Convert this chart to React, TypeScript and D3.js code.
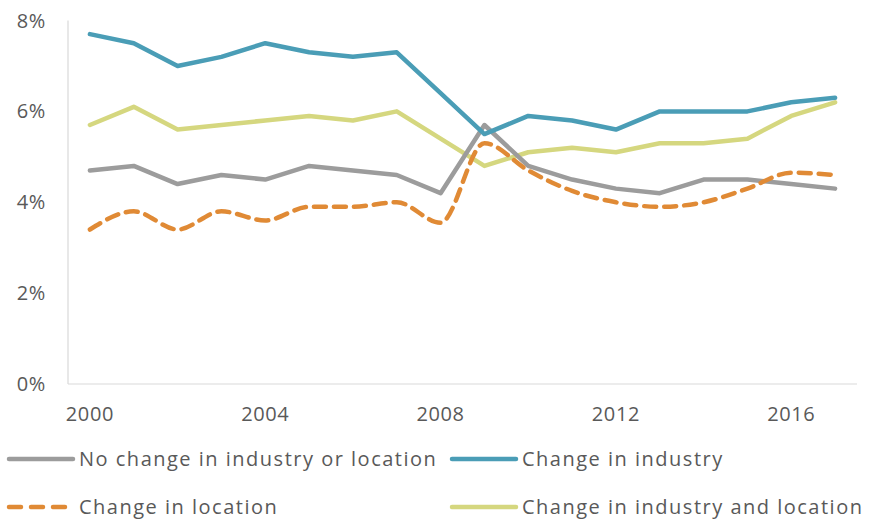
import React from "react";
import * as d3 from "d3";

const years = [2000, 2001, 2002, 2003, 2004, 2005, 2006, 2007, 2008, 2009, 2010, 2011, 2012, 2013, 2014, 2015, 2016, 2017];
const noChange = [4.7, 4.8, 4.4, 4.6, 4.5, 4.8, 4.7, 4.6, 4.2, 5.7, 4.8, 4.5, 4.3, 4.2, 4.5, 4.5, 4.4, 4.3];
const changeIndustry = [7.7, 7.5, 7.0, 7.2, 7.5, 7.3, 7.2, 7.3, 6.4, 5.5, 5.9, 5.8, 5.6, 6.0, 6.0, 6.0, 6.2, 6.3];
const changeLocation = [3.4, 3.8, 3.4, 3.8, 3.6, 3.9, 3.9, 4.0, 3.55, 5.3, 4.7, 4.25, 4.0, 3.9, 4.0, 4.3, 4.65, 4.6];
const changeBoth = [5.7, 6.1, 5.6, 5.7, 5.8, 5.9, 5.8, 6.0, 5.4, 4.8, 5.1, 5.2, 5.1, 5.3, 5.3, 5.4, 5.9, 6.2];
const yTicks = [0, 2, 4, 6, 8];
const xTickYears = [2000, 2004, 2008, 2012, 2016];
const seriesNames = ["No change in industry or location", "Change in industry", "Change in location", "Change in industry and location"];

const W = 869, H = 523;
const left = 68, right = 857, top = 20.5, bottom = 384;
const font = "'Open Sans', Lato, sans-serif";
const textColor = "#595959";

export default function App() {
  const x = d3.scaleBand<number>().domain(years).range([left, right]);
  const cx = (yr: number) => (x(yr) as number) + x.bandwidth() / 2;
  const y = d3.scaleLinear().domain([0, 8]).range([bottom, top]);

  const series = [
    { name: seriesNames[0], values: noChange, color: "#9c9c9c", dash: undefined as string | undefined, curve: d3.curveLinear },
    { name: seriesNames[1], values: changeIndustry, color: "#4a9db6", dash: undefined, curve: d3.curveLinear },
    { name: seriesNames[2], values: changeLocation, color: "#e08a35", dash: "12 8", curve: d3.curveMonotoneX },
    { name: seriesNames[3], values: changeBoth, color: "#d5d77f", dash: undefined, curve: d3.curveLinear },
  ];
  const drawOrder = [3, 0, 2, 1];

  const legendPos = [
    { x: 7, y: 459 },
    { x: 450, y: 459 },
    { x: 7, y: 507 },
    { x: 450, y: 507 },
  ];

  return (
    <svg width={W} height={H} style={{ position: "absolute", left: 0, top: 0, background: "#fff" }}>
      <line x1={left} x2={left} y1={top} y2={bottom} stroke="#d9d9d9" strokeWidth={1.2} />
      <line x1={left} x2={right} y1={bottom} y2={bottom} stroke="#d9d9d9" strokeWidth={1.2} />
      {yTicks.map((t) => (
        <text key={t} x={46} y={y(t)} dy="0.35em" textAnchor="end" fontFamily={font} fontSize={20} letterSpacing={0.6} fill={textColor}>
          {t}%
        </text>
      ))}
      {xTickYears.map((yr) => (
        <text key={yr} x={cx(yr)} y={414} dy="0.35em" textAnchor="middle" fontFamily={font} fontSize={20} letterSpacing={0.6} fill={textColor}>
          {yr}
        </text>
      ))}
      {drawOrder.map((i) => {
        const s = series[i];
        const line = d3.line<number>().x((_, j) => cx(years[j])).y((v) => y(v)).curve(s.curve);
        return (
          <path key={s.name} d={line(s.values) || ""} fill="none" stroke={s.color} strokeWidth={4.5}
            strokeDasharray={s.dash} strokeLinejoin="round" strokeLinecap="round" />
        );
      })}
      {series.map((s, i) => (
        <g key={s.name} transform={`translate(${legendPos[i].x},${legendPos[i].y})`}>
          <line x1={2} x2={i === 2 ? 63 : 66} y1={0} y2={0} stroke={s.color} strokeWidth={4.5}
            strokeDasharray={i === 2 ? "12 10" : undefined} strokeLinecap="round" />
          <text x={72} y={0} dy="0.35em" fontFamily={font} fontSize={20} letterSpacing={1.5} fill={textColor}>{s.name}</text>
        </g>
      ))}
    </svg>
  );
}
